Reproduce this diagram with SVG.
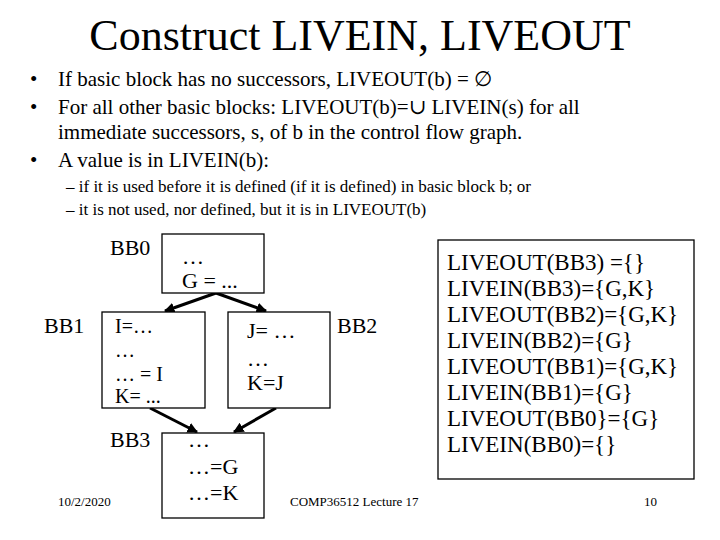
<svg xmlns="http://www.w3.org/2000/svg" width="720" height="540" viewBox="0 0 720 540" font-family="'Liberation Serif','DejaVu Serif',serif">
<style>
text{font-family:"Liberation Serif","DejaVu Serif",serif;fill:#000}
.b{fill:#fff;stroke:#000;stroke-width:1.3}
.t{font-size:22px}
.s{font-size:20px}
.r{font-size:23px}
.c{stroke:#000;stroke-width:3;fill:none;marker-end:url(#a)}
</style>
<defs><marker id="a" viewBox="0 0 10 10" refX="9" refY="5" markerWidth="3.5" markerHeight="3.5" orient="auto"><path d="M0,0L10,5L0,10z" fill="#000"/></marker></defs>
<rect width="720" height="540" fill="#fff"/>
<text x="360" y="50" font-size="44" text-anchor="middle">Construct LIVEIN, LIVEOUT</text>
<g font-size="21">
<text x="30" y="86">•</text><text x="58" y="86">If basic block has no successors, LIVEOUT(b) = ∅</text>
<text x="30" y="114">•</text><text x="58" y="114">For all other basic blocks: LIVEOUT(b)=∪ LIVEIN(s) for all</text>
<text x="58" y="139">immediate successors, s, of b in the control flow graph.</text>
<text x="30" y="167">•</text><text x="58" y="167">A value is in LIVEIN(b):</text>
</g>
<g font-size="17">
<text x="66" y="192">– if it is used before it is defined (if it is defined) in basic block b; or</text>
<text x="66" y="215">– it is not used, nor defined, but it is in LIVEOUT(b)</text>
</g>
<g id="connectors">
<path class="c" d="M216,293L165,311"/>
<path class="c" d="M216,293L266,311"/>
<path class="c" d="M150,408L197,432"/>
<path class="c" d="M276,408L234,432"/>
</g>
<g id="bb0"><rect class="b" x="162" y="234" width="102" height="59"/>
<text class="t" x="110" y="255">BB0</text><text class="t" x="182" y="264">…</text><text class="t" x="182" y="288">G = ...</text></g>
<g id="bb1"><rect class="b" x="102" y="312" width="103" height="96"/>
<text class="t" x="44" y="333">BB1</text><text class="s" x="115" y="333">I=…</text><text class="s" x="115" y="357">…</text><text class="s" x="115" y="381">… = I</text><text class="s" x="115" y="403">K= ...</text></g>
<g id="bb2"><rect class="b" x="228" y="312" width="102" height="96"/>
<text class="t" x="337" y="333">BB2</text><text class="t" x="247" y="338">J= …</text><text class="t" x="247" y="366">…</text><text class="t" x="247" y="390">K=J</text></g>
<g id="bb3"><rect class="b" x="162" y="433" width="102" height="85"/>
<text class="t" x="110" y="447">BB3</text><text class="t" x="188" y="447">…</text><text class="t" x="188" y="474">…=G</text><text class="t" x="188" y="500">…=K</text></g>
<g id="live"><rect class="b" x="438" y="240" width="256" height="239"/>
<g class="r"><text x="447" y="270">LIVEOUT(BB3) ={}</text><text x="447" y="296">LIVEIN(BB3)={G,K}</text><text x="447" y="322">LIVEOUT(BB2)={G,K}</text><text x="447" y="348">LIVEIN(BB2)={G}</text><text x="447" y="374">LIVEOUT(BB1)={G,K}</text><text x="447" y="400">LIVEIN(BB1)={G}</text><text x="447" y="426">LIVEOUT(BB0}={G}</text><text x="447" y="452">LIVEIN(BB0)={}</text></g></g>
<g font-size="13"><text x="58" y="506">10/2/2020</text><text x="290" y="506">COMP36512 Lecture 17</text><text x="644" y="506">10</text></g>
</svg>
